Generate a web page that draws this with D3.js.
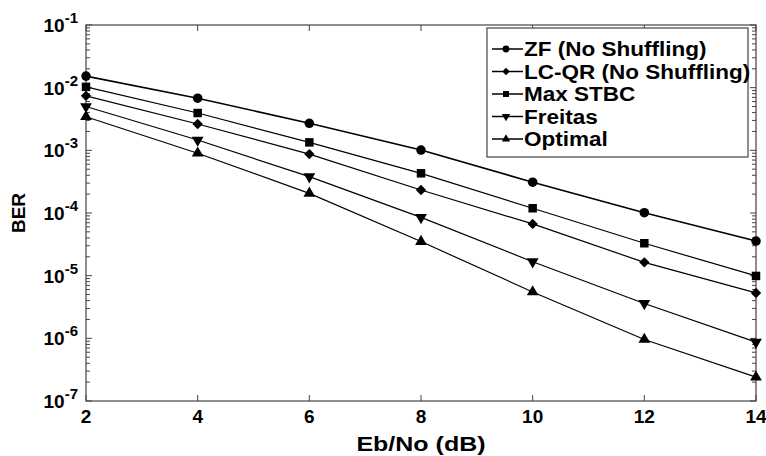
<!DOCTYPE html>
<html>
<head>
<meta charset="utf-8">
<script src="https://cdn.jsdelivr.net/npm/d3@7"></script>
<style>
  body { margin: 0; background: #fff; }
  text { font-family: 'Liberation Sans', Arial, sans-serif; font-weight: 700; fill: #000; }
</style>
</head>
<body>
<svg id="chart" width="766" height="456"></svg>
<script>
// Eb/No values (dB)
const snr = [2, 4, 6, 8, 10, 12, 14];

// BER per scheme
const zf = [1.53e-2, 6.8e-3, 2.7e-3, 1.01e-3, 3.1e-4, 1.01e-4, 3.57e-5];
const lcqr = [7.4e-3, 2.63e-3, 8.7e-4, 2.33e-4, 6.7e-5, 1.63e-5, 5.3e-6];
const maxStbc = [1.03e-2, 3.94e-3, 1.34e-3, 4.3e-4, 1.19e-4, 3.29e-5, 9.9e-6];
const freitas = [5.0e-3, 1.46e-3, 3.8e-4, 8.5e-5, 1.67e-5, 3.6e-6, 8.7e-7];
const optimal = [3.44e-3, 9.0e-4, 2.06e-4, 3.5e-5, 5.5e-6, 9.6e-7, 2.4e-7];

const seriesNames = ['ZF (No Shuffling)', 'LC-QR (No Shuffling)', 'Max STBC', 'Freitas', 'Optimal'];
const seriesValues = [zf, lcqr, maxStbc, freitas, optimal];
const seriesMarkers = ['circle', 'diamond', 'square', 'triangleDown', 'triangleUp'];

const xTicks = [2, 4, 6, 8, 10, 12, 14];
const yExponents = [-1, -2, -3, -4, -5, -6, -7];

const margin = { top: 25, right: 10, bottom: 55, left: 86 };
const width = 766, height = 456;
const plotW = width - margin.left - margin.right;
const plotH = height - margin.top - margin.bottom;

const svg = d3.select('#chart');
const g = svg.append('g').attr('transform', `translate(${margin.left},${margin.top})`);

const x = d3.scaleLinear().domain([2, 14]).range([0, plotW]);
const y = d3.scaleLog().domain([1e-7, 1e-1]).range([plotH, 0]);

// stretch text horizontally (the reference font is wide)
const stretch = (sel, f) => sel.each(function () {
  const len = this.getComputedTextLength();
  d3.select(this).attr('textLength', len * f).attr('lengthAdjust', 'spacingAndGlyphs');
});

// minor + major ticks for the log axis
const minorTicks = [];
for (let e = -7; e < -1; e++) {
  for (let m = 2; m <= 9; m++) minorTicks.push(m * Math.pow(10, e));
}
const majorTicks = yExponents.map(e => Math.pow(10, e));
const axisColor = '#444';

// left / right tick marks (inside)
[0, plotW].forEach((x0, side) => {
  const dir = side === 0 ? 1 : -1;
  g.append('g').selectAll('line.minor').data(minorTicks).join('line')
    .attr('x1', x0).attr('x2', x0 + dir * 4)
    .attr('y1', d => y(d)).attr('y2', d => y(d))
    .attr('stroke', axisColor).attr('stroke-width', 1);
  g.append('g').selectAll('line.major').data(majorTicks).join('line')
    .attr('x1', x0).attr('x2', x0 + dir * 6)
    .attr('y1', d => y(d)).attr('y2', d => y(d))
    .attr('stroke', axisColor).attr('stroke-width', 1);
});

// top / bottom tick marks (inside)
g.append('g').selectAll('line').data(xTicks).join('line')
  .attr('x1', d => x(d)).attr('x2', d => x(d))
  .attr('y1', plotH).attr('y2', plotH - 6)
  .attr('stroke', axisColor);
g.append('g').selectAll('line').data(xTicks).join('line')
  .attr('x1', d => x(d)).attr('x2', d => x(d))
  .attr('y1', 0).attr('y2', 6)
  .attr('stroke', axisColor);

// frame
g.append('rect')
  .attr('width', plotW).attr('height', plotH)
  .attr('fill', 'none').attr('stroke', axisColor).attr('stroke-width', 1.2);

// x tick labels
g.append('g').selectAll('text').data(xTicks).join('text')
  .attr('x', d => x(d)).attr('y', plotH + 22)
  .attr('text-anchor', 'middle')
  .style('font-size', '19px')
  .text(d => d);

// y tick labels 10^e
const yLab = g.append('g').selectAll('text').data(yExponents).join('text')
  .attr('x', -8).attr('y', d => y(Math.pow(10, d)) + 7)
  .attr('text-anchor', 'end')
  .style('font-size', '19px');
yLab.append('tspan').text('10');
yLab.append('tspan').attr('dy', -9).style('font-size', '15px').text(d => d);

// axis titles
svg.append('text')
  .attr('x', margin.left + plotW / 2).attr('y', 451)
  .attr('text-anchor', 'middle').style('font-size', '20px')
  .text('Eb/No (dB)')
  .call(stretch, 1.25);
svg.append('text')
  .attr('transform', `translate(25,${margin.top + plotH / 2}) rotate(-90)`)
  .attr('text-anchor', 'middle').style('font-size', '19px')
  .text('BER');

// markers
const markerPath = (type, s) => {
  const sym = {
    circle: d3.symbolCircle,
    diamond: d3.symbolSquare,
    square: d3.symbolSquare,
    triangleDown: d3.symbolTriangle,
    triangleUp: d3.symbolTriangle
  }[type];
  return d3.symbol().type(sym).size(s)();
};
const markerSize = { circle: 72, diamond: 54, square: 72, triangleDown: 60, triangleUp: 60 };
const markerRot = t => t === 'triangleDown' ? ' rotate(180)' : (t === 'diamond' ? ' rotate(45)' : '');

const line = d3.line().x((d, i) => x(snr[i])).y(d => y(d));

seriesValues.forEach((vals, k) => {
  const type = seriesMarkers[k];
  g.append('path')
    .attr('d', line(vals))
    .attr('fill', 'none').attr('stroke', '#000')
    .attr('stroke-width', k === 0 ? 1.6 : 1.2);
  g.append('g').selectAll('path').data(vals).join('path')
    .attr('transform', (d, i) => `translate(${x(snr[i])},${y(d)})${markerRot(type)}`)
    .attr('d', markerPath(type, markerSize[type]))
    .attr('fill', '#000');
});

// legend
const lg = svg.append('g').attr('transform', 'translate(487,28)');
lg.append('rect')
  .attr('width', 261).attr('height', 129)
  .attr('fill', '#fff').attr('stroke', axisColor).attr('stroke-width', 1.2);
seriesNames.forEach((name, k) => {
  const type = seriesMarkers[k];
  const yy = 21 + k * 22.5;
  lg.append('line').attr('x1', 5).attr('x2', 36).attr('y1', yy).attr('y2', yy)
    .attr('stroke', '#000').attr('stroke-width', 1.5);
  lg.append('path')
    .attr('transform', `translate(19,${yy})${markerRot(type)}`)
    .attr('d', markerPath(type, markerSize[type] * 0.5))
    .attr('fill', '#000');
  lg.append('text').attr('x', 37).attr('y', yy + 7)
    .style('font-size', '20px')
    .text(name)
    .call(stretch, 1.125);
});
</script>
</body>
</html>
